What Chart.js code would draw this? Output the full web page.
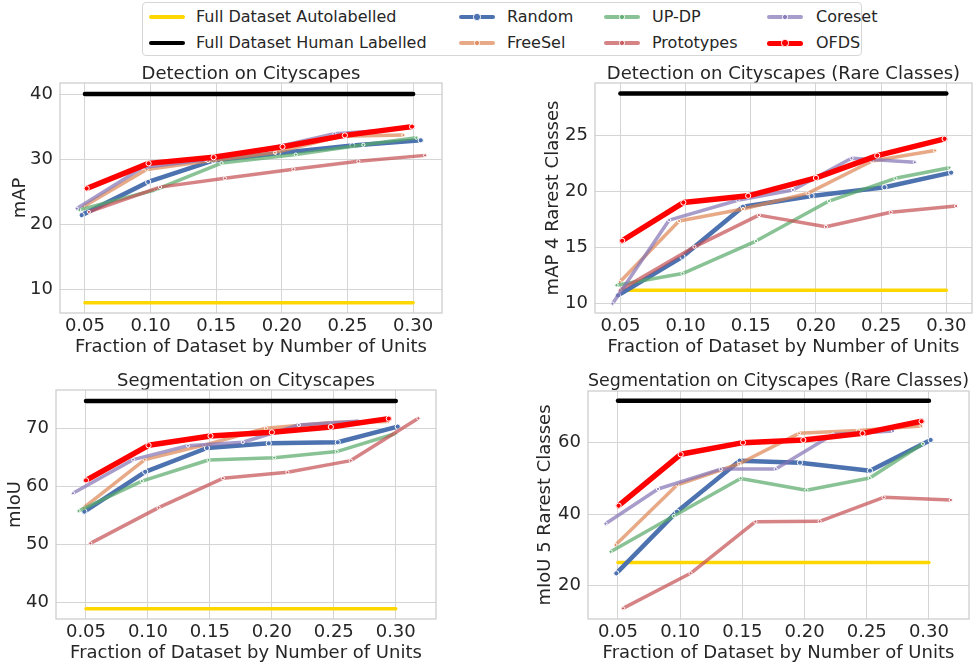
<!DOCTYPE html>
<html lang="en">
<head>
<meta charset="UTF-8">
<title>Data selection on Cityscapes</title>
<script src="https://cdn.jsdelivr.net/npm/chart.js@4.4.1/dist/chart.umd.min.js"></script>
<style>
  body { margin: 0; background: #fff; font-family: "DejaVu Sans", sans-serif; color: #262626; }
  #page { position: relative; width: 977px; height: 664px; overflow: hidden; background: #fff; }
  canvas { position: absolute; }
  #legend { position: absolute; left: 142px; top: 2px; width: 720px; height: 54px; box-sizing: border-box;
            border: 1px solid #d6d6d6; border-radius: 4px; background: #fff; }
  .label { position: absolute; font-size: 16px; line-height: 18px; white-space: nowrap; }
  .swatch { position: absolute; width: 36px; border-radius: 3px; }
  .dot { position: absolute; border: 1px solid #fff; border-radius: 50%; box-sizing: border-box; }
</style>
</head>
<body>
<div id="page">
  <div id="legend"></div>
  <canvas id="det" width="490" height="300" style="left:0px;top:60px"></canvas>
  <canvas id="detRare" width="457" height="300" style="left:520px;top:60px"></canvas>
  <canvas id="seg" width="490" height="297" style="left:0px;top:367px"></canvas>
  <canvas id="segRare" width="457" height="296" style="left:520px;top:368px"></canvas>
</div>
<script>
// ---- data ----
const xTicks = [0.05, 0.10, 0.15, 0.20, 0.25, 0.30];
const refSpan = [0.05, 0.30];

const methodNames = ['Random', 'FreeSel', 'UP-DP', 'Prototypes', 'Coreset', 'OFDS'];
const refNames = ['Full Dataset Autolabelled', 'Full Dataset Human Labelled'];

// reference levels per panel: det, detRare, seg, segRare
const autoLevels = [7.95, 11.2, 38.9, 26.5];
const humanLevels = [40.0, 28.7, 74.7, 71.7];

// Detection on Cityscapes (mAP)
const detRandom = [[0.0475, 21.4], [0.0982, 26.5], [0.148, 29.8], [0.197, 30.9], [0.2537, 32.1], [0.3058, 32.9]];
const detFreeSel = [[0.0487, 22.7], [0.097, 28.4], [0.1439, 29.7], [0.1948, 31.0], [0.245, 33.5], [0.2926, 33.7]];
const detUPDP = [[0.0457, 22.2], [0.104, 25.3], [0.154, 29.4], [0.2106, 30.7], [0.2621, 32.2], [0.3025, 33.3]];
const detPrototypes = [[0.053, 21.9], [0.1072, 25.7], [0.1566, 27.05], [0.2088, 28.45], [0.2583, 29.66], [0.3091, 30.58]];
const detCoreset = [[0.0438, 22.4], [0.094, 28.7], [0.142, 29.9], [0.19, 31.6], [0.24, 33.9], [0.285, 34.5]];
const detOFDS = [[0.0513, 25.5], [0.0985, 29.35], [0.148, 30.3], [0.2005, 31.9], [0.248, 33.65], [0.2992, 35.0]];

// Detection on Cityscapes, rare classes (mAP 4 rarest classes)
const detRareRandom = [[0.0482, 10.74], [0.0976, 14.17], [0.144, 18.63], [0.1967, 19.58], [0.2526, 20.36], [0.3037, 21.66]];
const detRareFreeSel = [[0.0495, 11.93], [0.095, 17.35], [0.144, 18.42], [0.1936, 19.82], [0.243, 22.7], [0.2913, 23.63]];
const detRareUPDP = [[0.047, 11.64], [0.0976, 12.68], [0.154, 15.57], [0.21, 19.13], [0.2609, 21.16], [0.3023, 22.1]];
const detRarePrototypes = [[0.0495, 11.19], [0.1068, 15.06], [0.1562, 17.88], [0.2076, 16.84], [0.2574, 18.13], [0.3075, 18.69]];
const detRareCoreset = [[0.0439, 10.0], [0.0874, 17.44], [0.14, 19.2], [0.1823, 20.12], [0.2273, 22.95], [0.2758, 22.59]];
const detRareOFDS = [[0.0513, 15.6], [0.0983, 19.0], [0.148, 19.6], [0.2, 21.19], [0.247, 23.18], [0.2987, 24.67]];

// Segmentation on Cityscapes (mIoU)
const segRandom = [[0.0487, 55.63], [0.0978, 62.5], [0.1476, 66.6], [0.1975, 67.41], [0.2532, 67.59], [0.3016, 70.29]];
const segFreeSel = [[0.048, 56.3], [0.0975, 64.6], [0.1454, 67.1], [0.1952, 70.0], [0.2484, 71.0], [0.294, 71.15]];
const segUPDP = [[0.044, 55.75], [0.0951, 60.9], [0.1489, 64.53], [0.2019, 64.94], [0.2524, 65.98], [0.30, 69.1]];
const segPrototypes = [[0.0535, 50.17], [0.1086, 56.32], [0.1605, 61.38], [0.2126, 62.41], [0.2637, 64.43], [0.3183, 71.72]];
const segCoreset = [[0.0395, 58.8], [0.088, 64.6], [0.1323, 67.0], [0.1766, 67.6], [0.2218, 70.57], [0.2712, 71.26]];
const segOFDS = [[0.05, 61.03], [0.1005, 67.07], [0.1505, 68.68], [0.2, 69.31], [0.2476, 70.23], [0.2944, 71.67]];

// Segmentation on Cityscapes, rare classes (mIoU 5 rarest classes)
const segRareRandom = [[0.0487, 23.45], [0.0974, 40.7], [0.1478, 54.97], [0.1963, 54.4], [0.2526, 52.17], [0.3014, 60.75]];
const segRareFreeSel = [[0.048, 31.37], [0.0977, 48.2], [0.1475, 54.1], [0.1955, 62.6], [0.243, 63.4], [0.2939, 64.66]];
const segRareUPDP = [[0.0441, 29.5], [0.0948, 39.5], [0.1486, 50.0], [0.2015, 46.7], [0.2524, 50.1], [0.2952, 59.7]];
const segRarePrototypes = [[0.054, 13.66], [0.1084, 23.46], [0.1605, 37.9], [0.2121, 38.0], [0.2636, 44.7], [0.3176, 43.97]];
const segRareCoreset = [[0.04, 37.34], [0.0822, 47.05], [0.1326, 52.6], [0.1768, 52.6], [0.2228, 62.3], [0.2711, 63.27]];
const segRareOFDS = [[0.0505, 42.38], [0.1004, 56.74], [0.1505, 60.0], [0.199, 60.75], [0.2466, 62.6], [0.2941, 65.97]];

const detYTicks = [10, 20, 30, 40];
const detRareYTicks = [10, 15, 20, 25];
const segYTicks = [40, 50, 60, 70];
const segRareYTicks = [20, 40, 60];

// ---- styles ----
const methodColors = ['#4C72B0', 'rgba(221,132,82,0.7)', 'rgba(85,168,104,0.7)',
                      'rgba(196,78,82,0.7)', 'rgba(129,114,179,0.7)', '#FF0000'];
const methodWidths = [4.5, 3.5, 3.5, 3.5, 3.5, 5.5];
const methodRadius = [2.6, 1.6, 1.6, 1.6, 1.6, 2.6];
const refColors = ['#FFD700', '#000000'];
const refWidths = [3.5, 4.5];

Chart.defaults.font.family = '"DejaVu Sans", sans-serif';
Chart.defaults.color = '#262626';

// light gray box round the plot area, like seaborn whitegrid spines
const framePlugin = {
    id: 'frame',
    beforeDatasetsDraw(chart) {
        const { ctx, chartArea: a } = chart;
        ctx.save();
        ctx.strokeStyle = '#cccccc';
        ctx.lineWidth = 1.25;
        ctx.strokeRect(a.left, a.top, a.right - a.left, a.bottom - a.top);
        ctx.restore();
    }
};

function buildChart(id, opts) {
    const datasets = [];
    opts.series.forEach((pts, i) => {
        datasets.push({
            label: methodNames[i],
            data: pts.map(p => ({ x: p[0], y: p[1] })),
            borderColor: methodColors[i],
            backgroundColor: methodColors[i],
            borderWidth: methodWidths[i],
            pointRadius: methodRadius[i],
            pointBackgroundColor: methodColors[i],
            pointBorderColor: '#ffffff',
            pointBorderWidth: 1,
            borderCapStyle: 'round',
            borderJoinStyle: 'round',
            order: methodNames.length - i
        });
    });
    [opts.auto, opts.human].forEach((level, k) => {
        datasets.push({
            label: refNames[k],
            data: refSpan.map(x => ({ x: x, y: level })),
            borderColor: refColors[k],
            borderWidth: refWidths[k],
            pointRadius: 0,
            borderCapStyle: 'round',
            order: 10 + k
        });
    });

    const tickFont = { size: 18 };
    return new Chart(document.getElementById(id), {
        type: 'line',
        data: { datasets: datasets },
        plugins: [framePlugin],
        options: {
            responsive: false,
            animation: false,
            layout: { padding: { left: 0, right: opts.padRight, top: 0, bottom: 0 } },
            plugins: {
                legend: { display: false },
                tooltip: { enabled: false },
                title: {
                    display: true,
                    text: opts.title,
                    fullSize: false,
                    font: { size: 18, weight: 'normal', lineHeight: 1.0 },
                    color: '#262626',
                    padding: { top: opts.titleTop, bottom: opts.titleBottom }
                }
            },
            scales: {
                x: {
                    type: 'linear',
                    min: opts.xMin,
                    max: opts.xMax,
                    afterBuildTicks: s => { s.ticks = xTicks.map(v => ({ value: v })); },
                    afterFit: s => { s.height = opts.xAxisH; },
                    ticks: { font: tickFont, padding: 3, maxRotation: 0, callback: v => v.toFixed(2) },
                    grid: { color: '#d5d5d5', lineWidth: 1, drawTicks: false },
                    border: { display: false },
                    title: {
                        display: true,
                        text: 'Fraction of Dataset by Number of Units',
                        font: { size: 18 },
                        padding: { top: 0, bottom: opts.xTitlePad }
                    }
                },
                y: {
                    type: 'linear',
                    min: opts.yMin,
                    max: opts.yMax,
                    afterBuildTicks: s => { s.ticks = opts.yTicks.map(v => ({ value: v })); },
                    afterFit: s => { s.width = opts.yAxisW; },
                    ticks: { font: tickFont, padding: 7, callback: v => String(v) },
                    grid: { color: '#d5d5d5', lineWidth: 1, drawTicks: false },
                    border: { display: false },
                    title: {
                        display: true,
                        text: opts.yTitle,
                        font: { size: 18 },
                        padding: { top: opts.yTitlePad, bottom: 0 }
                    }
                }
            }
        }
    });
}

buildChart('det', {
    title: 'Detection on Cityscapes', yTitle: 'mAP', yTicks: detYTicks,
    series: [detRandom, detFreeSel, detUPDP, detPrototypes, detCoreset, detOFDS],
    auto: autoLevels[0], human: humanLevels[0],
    xMin: 0.031, xMax: 0.322, yMin: 6.36, yMax: 41.7,
    yAxisW: 60, xAxisH: 47, padRight: 48, titleTop: 5, titleBottom: 0, yTitlePad: 9.2, xTitlePad: 2.2
});
buildChart('detRare', {
    title: 'Detection on Cityscapes (Rare Classes)', yTitle: 'mAP 4 Rarest Classes', yTicks: detRareYTicks,
    series: [detRareRandom, detRareFreeSel, detRareUPDP, detRarePrototypes, detRareCoreset, detRareOFDS],
    auto: autoLevels[1], human: humanLevels[1],
    xMin: 0.0305, xMax: 0.3197, yMin: 9.17, yMax: 29.64,
    yAxisW: 75, xAxisH: 47, padRight: 1, titleTop: 5, titleBottom: 0, yTitlePad: 22.2, xTitlePad: 2.2
});
buildChart('seg', {
    title: 'Segmentation on Cityscapes', yTitle: 'mIoU', yTicks: segYTicks,
    series: [segRandom, segFreeSel, segUPDP, segPrototypes, segCoreset, segOFDS],
    auto: autoLevels[2], human: humanLevels[2],
    xMin: 0.0258, xMax: 0.3325, yMin: 37.13, yMax: 76.6,
    yAxisW: 56, xAxisH: 45, padRight: 54, titleTop: 5, titleBottom: 0, yTitlePad: 4.2, xTitlePad: 0.2
});
buildChart('segRare', {
    title: 'Segmentation on Cityscapes (Rare Classes)', yTitle: 'mIoU 5 Rarest Classes', yTicks: segRareYTicks,
    series: [segRareRandom, segRareFreeSel, segRareUPDP, segRarePrototypes, segRareCoreset, segRareOFDS],
    auto: autoLevels[3], human: humanLevels[3],
    xMin: 0.0259, xMax: 0.3322, yMin: 10.68, yMax: 74.45,
    yAxisW: 68, xAxisH: 45, padRight: 8, titleTop: 4, titleBottom: 1, yTitlePad: 14.2, xTitlePad: 0.2
});

// ---- shared legend (column-major, 2 rows x 4 columns) ----
const legendNames = refNames.concat(methodNames);
const legendColors = refColors.concat(methodColors);
const legendWidths = [4, 4].concat(methodWidths.map(w => Math.min(w, 5)));
const legendRadius = [0, 0].concat(methodRadius);
const colSample = [6, 316, 461, 624];
const colText = [53, 364, 509, 673];
const rowMid = [14, 40];

const legend = document.getElementById('legend');
legendNames.forEach((name, i) => {
    const col = Math.floor(i / 2), row = i % 2;
    const sw = document.createElement('div');
    sw.className = 'swatch';
    sw.style.left = colSample[col] + 'px';
    sw.style.top = (rowMid[row] - legendWidths[i] / 2) + 'px';
    sw.style.height = legendWidths[i] + 'px';
    sw.style.background = legendColors[i];
    legend.appendChild(sw);
    if (legendRadius[i] > 0) {
        const d = legendRadius[i] * 2 + 2;
        const dot = document.createElement('div');
        dot.className = 'dot';
        dot.style.width = d + 'px';
        dot.style.height = d + 'px';
        dot.style.left = (colSample[col] + 18 - d / 2) + 'px';
        dot.style.top = (rowMid[row] - d / 2) + 'px';
        dot.style.background = legendColors[i];
        legend.appendChild(dot);
    }
    const lab = document.createElement('div');
    lab.className = 'label';
    lab.textContent = name;
    lab.style.left = colText[col] + 'px';
    lab.style.top = (rowMid[row] - 9) + 'px';
    legend.appendChild(lab);
});
</script>
</body>
</html>
